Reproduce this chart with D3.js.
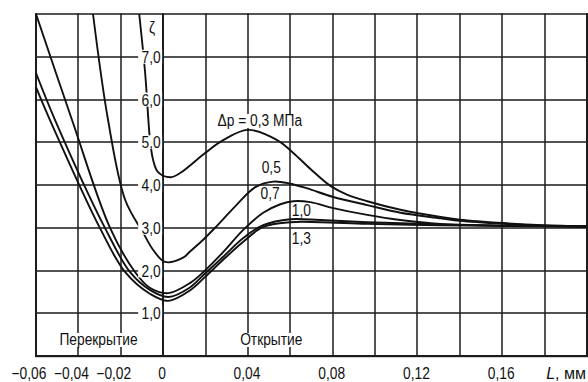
<!DOCTYPE html>
<html><head><meta charset="utf-8">
<script src="https://cdn.jsdelivr.net/npm/d3@7"></script>
<style>body{margin:0;background:#fff}svg{display:block}</style>
</head><body><svg id="c" width="588" height="382"></svg>
<script>
// ---- data ----
const xGridValues = [-0.06,-0.04,-0.02,0,0.02,0.04,0.06,0.08,0.10,0.12,0.14,0.16,0.18,0.20];
const yGridValues = [0,1,2,3,4,5,6,7,8];
const xTickValues = [-0.06,-0.04,-0.02,0,0.04,0.08,0.12,0.16];
const xTickLabels = ["−0,06","−0,04","−0,02","0","0,04","0,08","0,12","0,16"];
const yTickValues = [1,2,3,4,5,6,7];
const yTickLabels = ["1,0","2,0","3,0","4,0","5,0","6,0","7,0"];
const seriesLabels = ["Δp = 0,3 МПа","0,5","0,7","1,0","1,3"];

const dp03 = [[-0.0113,8.0],[-0.0085,6.62],[-0.0061,5.0],[-0.0047,4.58],[-0.0024,4.30],[0.0033,4.18],[0.008,4.28],[0.0198,4.75],[0.0283,5.05],[0.040,5.29],[0.0538,5.05],[0.0614,4.75],[0.0694,4.38],[0.0789,3.98],[0.0870,3.77],[0.0963,3.62],[0.112,3.42],[0.131,3.25],[0.140,3.19],[0.1606,3.11],[0.1795,3.06],[0.2,3.03]];
const dp05 = [[-0.0331,8.0],[-0.0260,5.52],[-0.0179,3.65],[-0.0094,2.88],[-0.0047,2.48],[0.0009,2.20],[0.0094,2.30],[0.0128,2.45],[0.0189,2.72],[0.0245,3.0],[0.0340,3.5],[0.0435,3.95],[0.0520,4.08],[0.0600,4.03],[0.0680,3.92],[0.0803,3.72],[0.0963,3.53],[0.112,3.35],[0.131,3.22],[0.140,3.16],[0.1606,3.09],[0.1795,3.05],[0.2,3.03]];
const dp07 = [[-0.060,8.0],[-0.0430,5.52],[-0.0250,2.99],[-0.0132,1.96],[-0.0061,1.59],[0.0024,1.47],[0.0128,1.71],[0.0189,1.96],[0.0283,2.43],[0.0378,2.95],[0.0472,3.35],[0.0553,3.55],[0.0614,3.62],[0.0694,3.60],[0.0803,3.46],[0.0963,3.30],[0.1119,3.18],[0.1308,3.09],[0.1606,3.05],[0.2,3.03]];
const dp10 = [[-0.060,6.62],[-0.0510,5.52],[-0.0274,2.99],[-0.0156,1.96],[-0.0061,1.54],[0.0024,1.38],[0.0128,1.61],[0.0189,1.89],[0.0283,2.32],[0.0378,2.76],[0.0472,3.06],[0.0600,3.20],[0.0741,3.18],[0.0963,3.13],[0.1308,3.08],[0.1606,3.05],[0.2,3.03]];
const dp13 = [[-0.060,6.29],[-0.0534,5.52],[-0.0298,2.99],[-0.0179,1.96],[-0.0061,1.45],[0.0024,1.29],[0.0128,1.54],[0.0198,1.85],[0.0283,2.25],[0.0378,2.67],[0.0472,3.02],[0.0600,3.13],[0.0741,3.13],[0.0963,3.09],[0.1308,3.06],[0.1606,3.04],[0.2,3.03]];
const allSeries = [dp03, dp05, dp07, dp10, dp13];

// ---- drawing ----
const svg = d3.select("#c");
const FONT = "'Liberation Sans',Arial,sans-serif";
const SQUEEZE = 0.86;
const xs = d3.scaleLinear().domain([-0.06, 0.20]).range([36, 587]);
const ys = d3.scaleLinear().domain([0, 8]).range([356, 14]);

svg.append("rect").attr("x",0).attr("y",0).attr("width",588).attr("height",382).attr("fill","#ffffff");

// grid drawn as thin filled bars
const gridG = svg.append("g").attr("fill", "#1c1c1c");
gridG.selectAll("rect.gx").data(xGridValues).enter().append("rect")
  .attr("class", "gx")
  .attr("x", d => Math.round(xs(d)) - ((d === 0 || d === -0.06 || d === 0.2) ? 1 : 0.75))
  .attr("width", d => (d === 0 || d === -0.06 || d === 0.2) ? 2 : 1.5)
  .attr("y", ys(8) - 0.75).attr("height", ys(0) - ys(8) + 1.5);
gridG.selectAll("rect.gy").data(yGridValues).enter().append("rect")
  .attr("class", "gy")
  .attr("y", d => Math.round(ys(d)) - (d === 0 ? 1 : 0.75))
  .attr("height", d => d === 0 ? 2.2 : 1.5)
  .attr("x", xs(-0.06) - 1).attr("width", xs(0.2) - xs(-0.06) + 2);

const lineGen = d3.line().x(d => xs(d[0])).y(d => ys(d[1])).curve(d3.curveCatmullRom.alpha(0.5));
allSeries.forEach(s => {
  svg.append("path").attr("d", lineGen(s))
    .attr("fill", "none").attr("stroke", "#111").attr("stroke-width", 1.9);
});

const lab = svg.append("g");
function label(g, tx, ty, str, anchor, bg) {
  const t = g.append("text").attr("x", tx).attr("y", ty).attr("text-anchor", anchor || "start")
    .attr("font-family", FONT).attr("font-size", 16).attr("fill", "#111").text(str);
  const len = t.node().getComputedTextLength();
  t.attr("textLength", len * SQUEEZE).attr("lengthAdjust", "spacingAndGlyphs");
  if (bg) {
    const b = t.node().getBBox();
    g.insert("rect", () => t.node()).attr("x", b.x - 1).attr("y", b.y + 2)
      .attr("width", b.width + 2).attr("height", b.height - 3).attr("fill", "#fff");
  }
  return t;
}

// y tick labels (inside the plot, left of the zero axis)
yTickValues.forEach((v, i) => {
  const g = lab.append("g");
  g.append("rect").attr("x", xs(0) - 25).attr("y", ys(v) - 7).attr("width", 24).attr("height", 14).attr("fill", "#fff");
  label(g, xs(0) - 2.5, ys(v) + 6, yTickLabels[i], "end", false);
});
label(lab, xs(0) - 11, ys(7.55), "ζ", "middle", false);

// x tick labels
xTickValues.forEach((v, i) => {
  label(lab, xs(v) + (v < 0 ? -7 : -1), 379, xTickLabels[i], "middle", false);
});
const Lt = lab.append("text").attr("x", 586).attr("y", 379).attr("text-anchor", "end")
  .attr("font-family", FONT).attr("font-size", 16).attr("fill", "#111");
Lt.append("tspan").attr("font-style", "italic").text("L");
Lt.append("tspan").text(", мм");

// region labels
label(lab, xs(-0.0305), 345, "Перекрытие", "middle", true);
label(lab, xs(0.051), 345, "Открытие", "middle", true);

// curve labels
label(lab, xs(0.0456), 126, seriesLabels[0], "middle", true);
label(lab, xs(0.051), 173, seriesLabels[1], "middle", false);
label(lab, xs(0.0505), 199, seriesLabels[2], "middle", false);
label(lab, xs(0.0652), 216, seriesLabels[3], "middle", false);
label(lab, xs(0.0652), 244, seriesLabels[4], "middle", false);
</script></body></html>
